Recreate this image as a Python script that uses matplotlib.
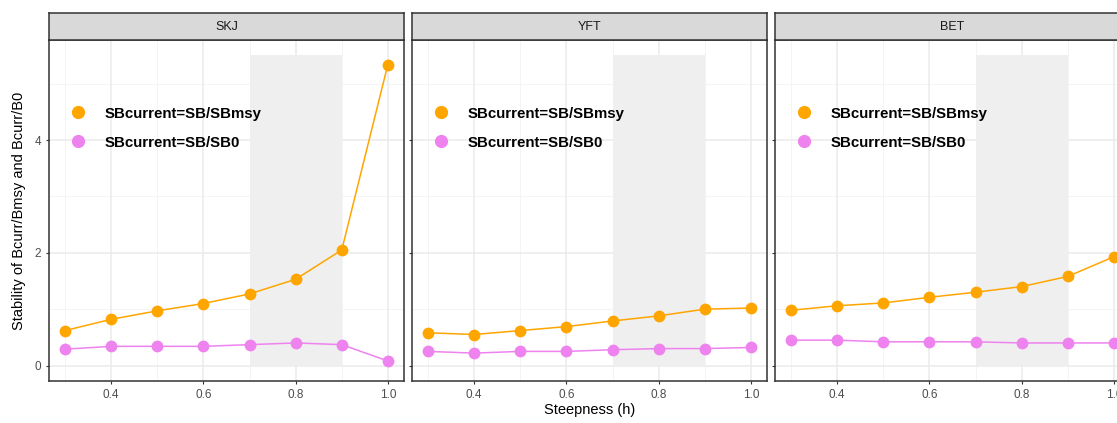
import matplotlib
matplotlib.use("Agg")
import matplotlib.pyplot as plt
from matplotlib.lines import Line2D
import numpy as np

plt.rcParams['font.family'] = ['Liberation Sans', 'DejaVu Sans']

steepness = [0.3, 0.4, 0.5, 0.6, 0.7, 0.8, 0.9, 1.0]
species = ["SKJ", "YFT", "BET"]
sb_sbmsy = {
    "SKJ": [0.62, 0.82, 0.97, 1.10, 1.27, 1.53, 2.05, 5.34],
    "YFT": [0.58, 0.55, 0.62, 0.69, 0.79, 0.88, 1.00, 1.02],
    "BET": [0.98, 1.06, 1.11, 1.21, 1.30, 1.40, 1.58, 1.93],
}
sb_sb0 = {
    "SKJ": [0.29, 0.34, 0.34, 0.34, 0.37, 0.40, 0.37, 0.08],
    "YFT": [0.25, 0.22, 0.25, 0.25, 0.28, 0.30, 0.30, 0.32],
    "BET": [0.45, 0.45, 0.42, 0.42, 0.42, 0.40, 0.40, 0.40],
}
shade_x = [0.7, 0.9]
shade_y = [0.0, 5.5]
series_labels = ["SBcurrent=SB/SBmsy", "SBcurrent=SB/SB0"]
colors = ["#FFA500", "#EE82EE"]

W, H = 1117, 423
fig = plt.figure(figsize=(W / 100, H / 100), dpi=100)

panel_lefts = [49, 412, 775]
panel_w = 355
top, bottom = 40, 381
strip_top = 13

xlim = (0.3 - 0.035, 1.0 + 0.035)
ylim = (-0.275, 5.775)

for i, sp in enumerate(species):
    L = panel_lefts[i]
    ax = fig.add_axes([L / W, (H - bottom) / H, panel_w / W, (bottom - top) / H])
    ax.set_xlim(*xlim)
    ax.set_ylim(*ylim)
    ax.set_facecolor("white")
    # grid
    for v in [0.3, 0.5, 0.7, 0.9]:
        ax.axvline(v, color="#F2F2F2", lw=0.6, zorder=0)
    for v in [1, 3, 5]:
        ax.axhline(v, color="#F2F2F2", lw=0.6, zorder=0)
    for v in [0.4, 0.6, 0.8, 1.0]:
        ax.axvline(v, color="#EBEBEB", lw=1.1, zorder=0)
    for v in [0, 2, 4]:
        ax.axhline(v, color="#EBEBEB", lw=1.1, zorder=0)
    ax.fill_between(shade_x, shade_y[0], shade_y[1], color="#EFEFEF", lw=0, zorder=1)
    ax.plot(steepness, sb_sbmsy[sp], color=colors[0], lw=1.1, marker="o",
            markersize=8.5, markeredgewidth=0, zorder=3)
    ax.plot(steepness, sb_sb0[sp], color=colors[1], lw=1.1, marker="o",
            markersize=8.5, markeredgewidth=0, zorder=3)
    ax.set_xticks([0.4, 0.6, 0.8, 1.0])
    ax.set_xticklabels(["0.4", "0.6", "0.8", "1.0"])
    if i == 0:
        ax.set_yticks([0, 2, 4])
        ax.set_yticklabels(["0", "2", "4"])
        ax.set_ylabel("Stability of Bcurr/Bmsy and Bcurr/B0", fontsize=10.5,
                      color="black", labelpad=6)
    else:
        ax.set_yticks([0, 2, 4])
        ax.set_yticklabels([])
        ax.tick_params(axis="y", length=0)
    if i == 1:
        ax.set_xlabel("Steepness (h)", fontsize=10.5, color="black", labelpad=2)
    ax.tick_params(axis="both", colors="#333333", labelcolor="#4D4D4D",
                   labelsize=8.5, length=2.5, width=0.8, pad=3)
    for s in ax.spines.values():
        s.set_color("#333333")
        s.set_linewidth(1.1)
    handles = [Line2D([], [], ls="none", marker="o", color=c, markersize=9.5,
                      markeredgewidth=0) for c in colors]
    leg = ax.legend(handles, series_labels, loc="upper left",
                    bbox_to_anchor=(0.045, 0.822), frameon=False,
                    prop={"size": 10.8, "weight": "bold"}, handletextpad=1.25,
                    labelspacing=1.0, handlelength=1.0, borderaxespad=0)
    # strip
    sax = fig.add_axes([L / W, (H - top) / H, panel_w / W, (top - strip_top) / H])
    sax.set_facecolor("#D9D9D9")
    sax.set_xticks([])
    sax.set_yticks([])
    for s in sax.spines.values():
        s.set_color("#333333")
        s.set_linewidth(1.1)
    sax.text(0.5, 0.48, sp, ha="center", va="center", fontsize=9,
             color="#1A1A1A", transform=sax.transAxes)

fig.savefig("out.png", dpi=100)
